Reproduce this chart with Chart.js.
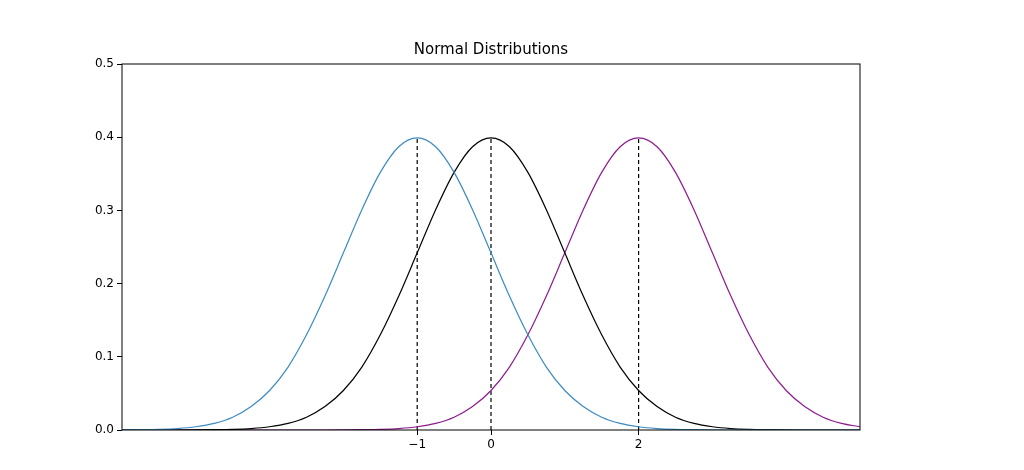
<!DOCTYPE html>
<html>
<head>
<script src="https://cdn.jsdelivr.net/npm/chart.js@4"></script>
<style>body{margin:0;background:#fff}#wrap{width:1024px;height:470px}</style>
</head>
<body>
<div id="wrap"><canvas id="c"></canvas></div>
<script>
// x from -5 to 5 in steps of 0.25
var xs = [];
for (var i = 0; i <= 40; i++) xs.push(-5 + 0.25 * i);

var blackY = [0,0,0,0,0.0001,0.0004,0.0009,0.002,0.0044,0.009,0.0175,0.032,0.054,0.086,0.130,0.183,0.242,0.301,0.352,0.387,0.399,0.387,0.352,0.301,0.242,0.183,0.130,0.086,0.054,0.032,0.0175,0.009,0.0044,0.002,0.0009,0.0004,0.0001,0,0,0,0];
var blueY = [0.0001,0.0004,0.0009,0.002,0.0044,0.009,0.0175,0.032,0.054,0.086,0.130,0.183,0.242,0.301,0.352,0.387,0.399,0.387,0.352,0.301,0.242,0.183,0.130,0.086,0.054,0.032,0.0175,0.009,0.0044,0.002,0.0009,0.0004,0.0001,0,0,0,0,0,0,0,0];
var purpleY = [0,0,0,0,0,0,0,0,0,0,0,0,0.0001,0.0004,0.0009,0.002,0.0044,0.009,0.0175,0.032,0.054,0.086,0.130,0.183,0.242,0.301,0.352,0.387,0.399,0.387,0.352,0.301,0.242,0.183,0.130,0.086,0.054,0.032,0.0175,0.009,0.0044];
var means = [-1, 0, 2];
var peak = 0.399;
var xTicks = [-1, 0, 2];
var yTicks = [0, 0.1, 0.2, 0.3, 0.4, 0.5];

function pts(ys) {
    return ys.map(function(y, i) { return {x: xs[i], y: y}; });
}
function curve(ys, color) {
    return {data: pts(ys), borderColor: color, borderWidth: 1.2, pointRadius: 0, cubicInterpolationMode: 'monotone', fill: false};
}

var datasets = [curve(blueY, '#3b8bc2'), curve(blackY, '#000000'), curve(purpleY, '#8e1a8e')];
means.forEach(function(m) {
    datasets.push({data: [{x: m, y: 0}, {x: m, y: peak}], borderColor: '#000', borderWidth: 1.2, borderDash: [4, 3], pointRadius: 0});
});

var frame = {
    id: 'frame',
    afterDraw: function(chart) {
        var a = chart.chartArea, ctx = chart.ctx;
        ctx.save();
        ctx.strokeStyle = '#000';
        ctx.lineWidth = 1;
        ctx.strokeRect(a.left, a.top, a.right - a.left, a.bottom - a.top);
        ctx.fillStyle = '#000';
        ctx.font = '15px "DejaVu Sans"';
        ctx.textAlign = 'center';
        ctx.textBaseline = 'bottom';
        ctx.fillText('Normal Distributions', (a.left + a.right) / 2, a.top - 6);
        ctx.restore();
    }
};

new Chart(document.getElementById('c').getContext('2d'), {
    type: 'line',
    data: {datasets: datasets},
    plugins: [frame],
    options: {
        responsive: true,
        maintainAspectRatio: false,
        animation: false,
        layout: {padding: {left: 72, right: 164, top: 64, bottom: 10}},
        plugins: {legend: {display: false}, tooltip: {enabled: false}},
        scales: {
            x: {
                type: 'linear', min: -5, max: 5,
                afterFit: function(s) { s.height = 30; },
                afterBuildTicks: function(s) { s.ticks = xTicks.map(function(v) { return {value: v}; }); },
                ticks: {color: '#000', font: {family: 'DejaVu Sans', size: 12}, maxRotation: 0,
                    callback: function(v) { return v < 0 ? '\u2212' + Math.abs(v) : String(v); }},
                grid: {drawOnChartArea: false, tickLength: 5, color: '#000'},
                border: {display: false}
            },
            y: {
                min: 0, max: 0.5,
                afterFit: function(s) { s.width = 50; },
                afterBuildTicks: function(s) { s.ticks = yTicks.map(function(v) { return {value: v}; }); },
                ticks: {color: '#000', font: {family: 'DejaVu Sans', size: 12},
                    callback: function(v) { return v.toFixed(1); }},
                grid: {drawOnChartArea: false, tickLength: 5, color: '#000'},
                border: {display: false}
            }
        }
    }
});
</script>
</body>
</html>
